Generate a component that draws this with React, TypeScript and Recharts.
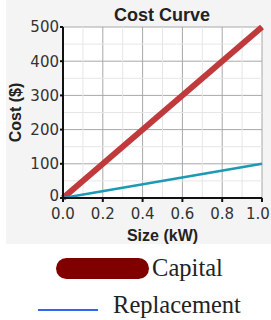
import React from "react";
import {
  LineChart,
  Line,
  XAxis,
  YAxis,
  CartesianGrid,
  ReferenceLine,
} from "recharts";

const sizes = [0, 1];
const capitalCost = [0, 500];
const replacementCost = [0, 100];

const xTicks = [0, 0.2, 0.4, 0.6, 0.8, 1.0];
const yTicks = [0, 100, 200, 300, 400, 500];
const xMinor = [0.1, 0.3, 0.5, 0.7, 0.9];
const yMinor = [50, 150, 250, 350, 450];

const CAPITAL_LINE = "#c0393b";
const REPLACEMENT_LINE = "#1d9ab3";

const chartData = sizes.map((s, i) => ({
  size: s,
  capital: capitalCost[i],
  replacement: replacementCost[i],
}));

const tickFont = {
  fontFamily: "DejaVu Sans, Verdana, sans-serif",
  fontSize: 15,
  fill: "#333",
};

const labelStyle = {
  fontFamily: "Liberation Sans, Arial, sans-serif",
  fontSize: 16,
  fontWeight: "bold",
  fill: "#222",
};

// last label is nudged left so it stays inside the frame
const XTick = ({ x, y, payload }: any) => (
  <text
    x={payload.value === 1 ? x - 4 : x}
    y={y}
    dy="0.71em"
    textAnchor="middle"
    style={tickFont}
  >
    {Number(payload.value).toFixed(1)}
  </text>
);

const YTick = ({ x, y, payload }: any) => (
  <text
    x={x}
    y={payload.value === 0 ? y - 2 : y}
    dy="0.355em"
    textAnchor="end"
    style={tickFont}
  >
    {payload.value}
  </text>
);

export default function App() {
  return (
    <div
      style={{
        position: "absolute",
        left: 0,
        top: 0,
        width: 271,
        height: 320,
        background: "#fff",
      }}
    >
      <div
        style={{
          position: "absolute",
          left: 6,
          top: 0,
          width: 265,
          height: 244,
          background: "#f4f4f4",
        }}
      />
      <div style={{ position: "absolute", left: 0, top: 0 }}>
        <LineChart
          width={271}
          height={244}
          data={chartData}
          margin={{ top: 27, right: 9, bottom: 0, left: 23 }}
        >
          <CartesianGrid fill="#fff" stroke="#a8a8a8" strokeWidth={1} />
          {xMinor.map((v) => (
            <ReferenceLine key={`xm${v}`} x={v} stroke="#e6e6e6" strokeWidth={1} />
          ))}
          {yMinor.map((v) => (
            <ReferenceLine key={`ym${v}`} y={v} stroke="#e6e6e6" strokeWidth={1} />
          ))}
          <XAxis
            dataKey="size"
            type="number"
            domain={[0, 1]}
            ticks={xTicks}
            tick={<XTick />}
            tickSize={4}
            tickMargin={6}
            stroke="#111"
            strokeWidth={2}
            height={46}
            label={{
              value: "Size (kW)",
              position: "insideBottom",
              offset: 3,
              style: labelStyle,
            }}
          />
          <YAxis
            type="number"
            domain={[0, 500]}
            ticks={yTicks}
            tick={<YTick />}
            tickSize={3}
            tickMargin={1}
            stroke="#111"
            strokeWidth={2}
            width={40}
            label={{
              value: "Cost ($)",
              angle: -90,
              position: "insideLeft",
              offset: -8,
              style: { ...labelStyle, textAnchor: "middle" },
            }}
          />
          <Line
            dataKey="capital"
            stroke={CAPITAL_LINE}
            strokeWidth={6}
            dot={false}
            isAnimationActive={false}
          />
          <Line
            dataKey="replacement"
            stroke={REPLACEMENT_LINE}
            strokeWidth={2.5}
            dot={false}
            isAnimationActive={false}
          />
          <text
            x={162}
            y={21}
            textAnchor="middle"
            style={{ ...labelStyle, fontSize: 18 }}
          >
            Cost Curve
          </text>
        </LineChart>
      </div>
      <div
        style={{
          position: "absolute",
          left: 8,
          top: 251,
          width: 263,
          fontFamily: "Liberation Serif, Times New Roman, serif",
          fontSize: 24.5,
          color: "#222",
          display: "flex",
          flexDirection: "column",
          alignItems: "center",
        }}
      >
        <div style={{ display: "flex", alignItems: "center", height: 34 }}>
          <span
            style={{
              display: "inline-block",
              width: 93,
              height: 21,
              borderRadius: 11,
              background: "#800000",
              marginRight: 3,
            }}
          />
          <span>Capital</span>
        </div>
        <div style={{ display: "flex", alignItems: "center", height: 40 }}>
          <span
            style={{
              display: "inline-block",
              width: 60,
              height: 2,
              background: "#3366ee",
              marginRight: 15,
              marginTop: 10,
            }}
          />
          <span>Replacement</span>
        </div>
      </div>
    </div>
  );
}
